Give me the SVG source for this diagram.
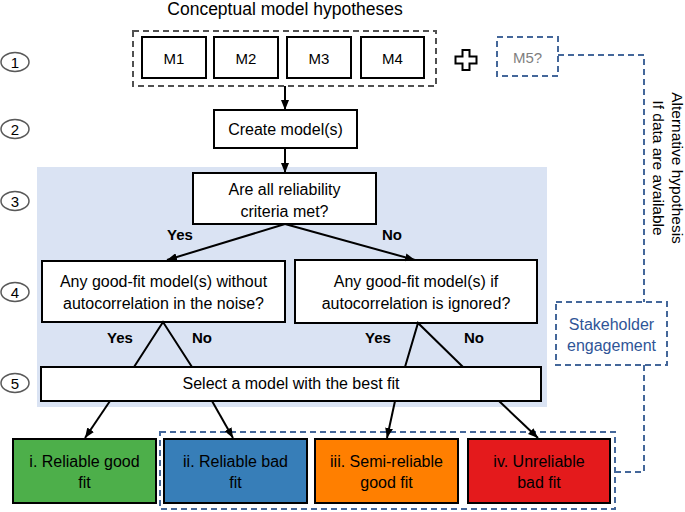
<svg xmlns="http://www.w3.org/2000/svg" width="685" height="512" viewBox="0 0 685 512">
<defs>
<marker id="ah" markerWidth="10" markerHeight="8" refX="10" refY="4" orient="auto" markerUnits="userSpaceOnUse">
<path d="M0,0 L10,4 L0,8 z" fill="#000"/>
</marker>
<style>
text{font-family:"Liberation Sans",Arial,sans-serif;fill:#000}
.box{fill:#fff;stroke:#000;stroke-width:2}
.t{font-size:16px;text-anchor:middle}
.b{font-size:15px;font-weight:bold;text-anchor:middle}
.num{fill:#fff;stroke:#595959;stroke-width:1.5}
.gd{fill:none;stroke:#505050;stroke-width:2;stroke-dasharray:6,4}
.bd{fill:none;stroke:#44679a;stroke-width:2;stroke-dasharray:6,4}
.ln{fill:none;stroke:#000;stroke-width:2}
.ar{fill:none;stroke:#000;stroke-width:2;marker-end:url(#ah)}
</style>
</defs>
<rect width="685" height="512" fill="#fff"/>
<rect x="37" y="167" width="510" height="240" fill="#dae3f3"/>

<text x="285" y="15" style="font-size:17.5px;text-anchor:middle">Conceptual model hypotheses</text>

<g id="steps">
<ellipse class="num" cx="15" cy="62" rx="14" ry="9.5"/><text x="15" y="67.5" class="t" style="font-size:15px">1</text>
<ellipse class="num" cx="15" cy="129" rx="14" ry="9.5"/><text x="15" y="134.5" class="t" style="font-size:15px">2</text>
<ellipse class="num" cx="15" cy="201" rx="14" ry="9.5"/><text x="15" y="206.5" class="t" style="font-size:15px">3</text>
<ellipse class="num" cx="15" cy="292" rx="14" ry="9.5"/><text x="15" y="297.5" class="t" style="font-size:15px">4</text>
<ellipse class="num" cx="15" cy="383" rx="14" ry="9.5"/><text x="15" y="388.5" class="t" style="font-size:15px">5</text>
</g>

<g id="hypotheses">
<rect class="gd" x="133" y="31" width="303" height="55"/>
<g id="m1"><rect class="box" x="142" y="37" width="64" height="41"/><text class="t" x="174" y="64" style="font-size:15px">M1</text></g>
<g id="m2"><rect class="box" x="214" y="37" width="64" height="41"/><text class="t" x="246" y="64" style="font-size:15px">M2</text></g>
<g id="m3"><rect class="box" x="287" y="37" width="64" height="41"/><text class="t" x="319" y="64" style="font-size:15px">M3</text></g>
<g id="m4"><rect class="box" x="361" y="37" width="63" height="41"/><text class="t" x="392.5" y="64" style="font-size:15px">M4</text></g>
</g>

<g id="plus"><path d="M462.5,50 h7 v6.5 h7 v7 h-7 v6.5 h-7 v-6.5 h-7 v-7 h7 z" fill="#fff" stroke="#000" stroke-width="2" stroke-linejoin="miter"/></g>

<g id="m5"><rect class="bd" x="497" y="37" width="61" height="39"/><text class="t" x="527.5" y="63" style="font-size:15px;fill:#7f7f7f">M5?</text></g>

<g id="create"><rect class="box" x="214" y="110" width="143" height="38"/><text class="t" x="285.5" y="135">Create model(s)</text></g>

<g id="q3"><rect class="box" x="193" y="173" width="183" height="51"/>
<text class="t" x="284.5" y="195">Are all reliability</text><text class="t" x="284.5" y="217">criteria met?</text></g>

<g id="q4l"><rect class="box" x="42" y="261" width="243" height="61"/>
<text class="t" x="163.5" y="287">Any good-fit model(s) without</text><text class="t" x="163.5" y="309">autocorrelation in the noise?</text></g>

<g id="q4r"><rect class="box" x="295" y="260" width="242" height="63"/>
<text class="t" x="416" y="287">Any good-fit model(s) if</text><text class="t" x="416" y="309">autocorrelation is ignored?</text></g>

<g id="select"><rect class="box" x="41" y="367" width="500" height="34"/>
<text class="t" x="291" y="389">Select a model with the best fit</text></g>

<g id="outcomes">
<rect class="bd" x="160" y="432" width="455" height="77"/>
<g id="o1"><rect x="13" y="439" width="143" height="64" fill="#4daf4a" stroke="#000" stroke-width="2"/>
<text class="t" x="84.5" y="467">i. Reliable good</text><text class="t" x="84.5" y="488">fit</text></g>
<g id="o2"><rect x="164" y="439" width="143" height="64" fill="#377eb8" stroke="#000" stroke-width="2"/>
<text class="t" x="235.5" y="467">ii. Reliable bad</text><text class="t" x="235.5" y="488">fit</text></g>
<g id="o3"><rect x="315" y="439" width="143" height="64" fill="#ff7f00" stroke="#000" stroke-width="2"/>
<text class="t" x="386.5" y="467">iii. Semi-reliable</text><text class="t" x="386.5" y="488">good fit</text></g>
<g id="o4"><rect x="468" y="439" width="142" height="64" fill="#e41a1c" stroke="#000" stroke-width="2"/>
<text class="t" x="539" y="467">iv. Unreliable</text><text class="t" x="539" y="488">bad fit</text></g>
</g>

<g id="stakeholder"><rect class="bd" x="556" y="302" width="111" height="63"/>
<text class="t" x="611.5" y="330" style="fill:#2f5597">Stakeholder</text><text class="t" x="611.5" y="351" style="fill:#2f5597">engagement</text></g>

<g id="connectors">
<line class="ar" x1="285" y1="86" x2="285" y2="110"/>
<line class="ar" x1="285" y1="148" x2="285" y2="173"/>
<line class="ar" x1="285" y1="224" x2="167" y2="260"/>
<line class="ar" x1="285" y1="224" x2="415" y2="260"/>
<polyline class="ln" points="134,367 163,322 192,367"/>
<polyline class="ln" points="405,367 418,323 463,367"/>
<line class="ar" x1="110" y1="401" x2="85" y2="438"/>
<line class="ar" x1="212" y1="401" x2="233" y2="438"/>
<line class="ar" x1="395" y1="401" x2="387" y2="438"/>
<line class="ar" x1="499" y1="401" x2="538" y2="438"/>
<polyline class="bd" points="558,55 644,55 644,302"/>
<polyline class="bd" points="644,365 644,472 615,472"/>
</g>

<g id="labels">
<text class="b" x="180" y="240">Yes</text>
<text class="b" x="392" y="240">No</text>
<text class="b" x="120" y="343">Yes</text>
<text class="b" x="202" y="343">No</text>
<text class="b" x="378" y="343">Yes</text>
<text class="b" x="474" y="343">No</text>
<text transform="translate(672,168) rotate(90)" style="font-size:15.5px;text-anchor:middle">Alternative hypothesis</text>
<text transform="translate(653,168) rotate(90)" style="font-size:15.5px;text-anchor:middle">If data are available</text>
</g>
</svg>
